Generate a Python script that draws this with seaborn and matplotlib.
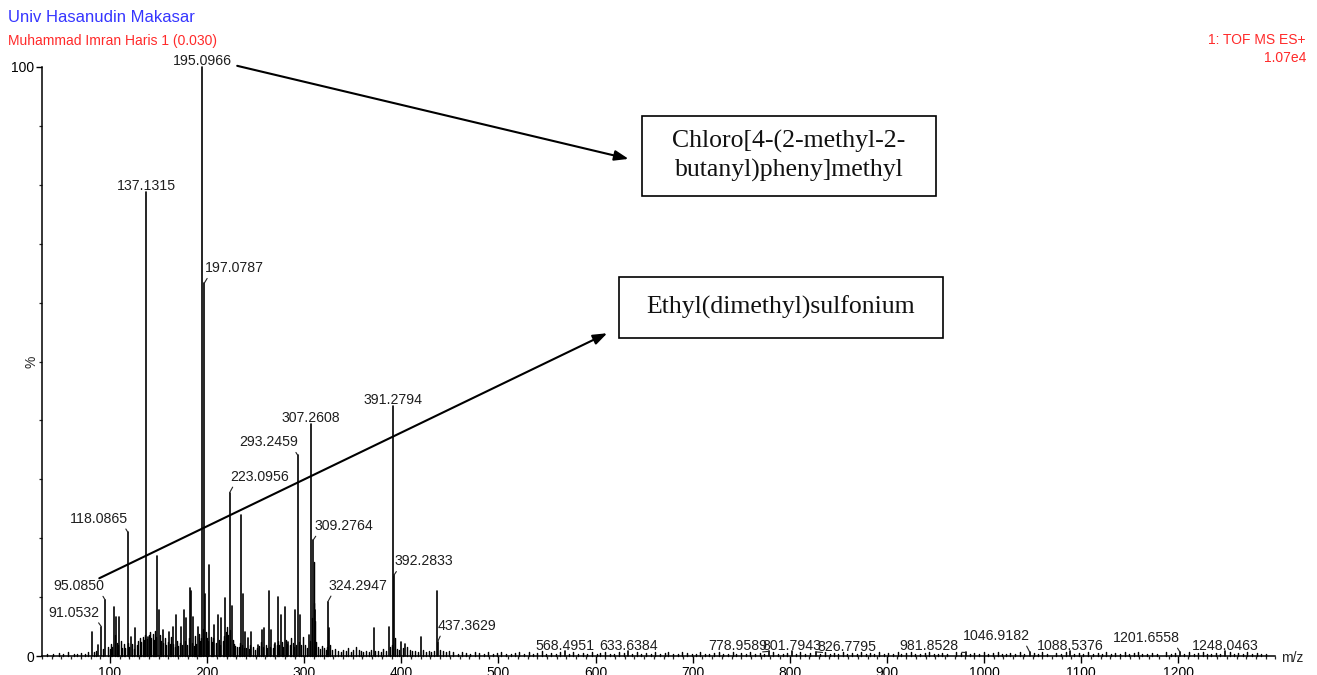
import pandas as pd
import matplotlib
matplotlib.use("Agg")
import matplotlib.pyplot as plt
from matplotlib.patches import Rectangle
from matplotlib.ticker import MultipleLocator
import seaborn as sns

# ---- spectrum data: m/z and relative intensity (%) ----
peak_mz = [81.2, 88.0, 91.0532, 95.0850, 103.9, 106.3, 109.7, 118.0865, 121.7,
           126.2, 137.1315, 138.9, 148.5, 150.0, 154.3, 161.0, 164.6, 168.0,
           173.3, 176.7, 178.4, 182.9, 183.5, 185.3, 190.4, 195.0966, 197.0787,
           198.0, 202.4, 207.6, 211.0, 214.5, 218.6, 223.0956, 225.8, 235.0,
           236.7, 239.5, 241.9, 245.4, 252.2, 256.7, 259.1, 263.5, 266.0, 270.4,
           273.5, 276.3, 279.7, 283.8, 290.7, 293.2459, 295.2, 305.4, 307.2608,
           309.2764, 311.6, 324.2947, 326.0, 371.7, 386.8, 391.2794, 392.2833,
           399.9, 403.3, 419.8, 436.4, 437.3629, 568.4951, 633.6384, 778.9589,
           801.7943, 826.7795, 981.8528, 1046.9182, 1088.5376, 1201.6558, 1248.0463]
peak_pct = [4.1, 1.9, 5.0, 9.5, 8.4, 6.7, 6.6, 21.1, 3.3,
            4.7, 78.7, 3.3, 17.0, 7.8, 4.4, 4.1, 5.0, 7.0,
            5.0, 7.8, 6.4, 11.5, 11.0, 6.7, 5.0, 100.0, 63.3,
            10.5, 15.5, 5.3, 7.0, 6.4, 9.8, 27.7, 8.5, 24.0,
            10.6, 4.1, 3.0, 4.0, 1.9, 4.4, 4.7, 11.1, 4.4, 2.2,
            10.0, 7.0, 8.3, 2.4, 7.8, 34.1, 7.0, 3.6, 39.4,
            19.7, 7.8, 9.2, 4.7, 4.7, 5.0, 42.4, 13.7,
            2.4, 2.0, 3.3, 11.1, 2.4, 0.9, 0.9, 0.8,
            0.9, 0.7, 0.6, 0.7, 0.8, 0.7, 0.8]

# low-level ions and baseline noise
minor_mz = [35, 41, 47, 52, 57, 63, 66, 70, 74, 77, 84, 86, 93, 98,
            100, 101.5, 102.5, 105, 107.5, 108.5, 111, 112.5, 114, 115.5, 119, 120,
            123, 124.5, 127.5, 129, 130.5, 132, 133.5, 135, 136, 138, 140, 141,
            142.5, 144, 145, 146.5, 147.5, 151, 152.5, 155, 156.5, 158, 160, 162,
            163, 165, 166.5, 169, 170.5, 172, 174.5, 177.5, 179.5, 181, 184, 186,
            187.5, 189, 191.5, 192.5, 194, 196, 199, 200, 201, 204, 205.5, 206.5,
            209, 212.5, 213.5, 216, 217, 219.5, 220.5, 221.5, 224, 226.5, 227.5,
            229, 231, 233, 234, 236, 238, 240, 243, 244, 247, 249.5, 251, 253.5,
            255, 258, 261, 262, 264.5, 267.5, 269, 271.5, 272.5, 274.5, 277.5,
            278.5, 281, 282.5, 285, 286.5, 288, 289.5, 292, 294.5, 297, 299, 301,
            302.5, 306, 308.5, 309.8, 310.3, 311, 312.5, 314, 316, 318, 320, 322,
            323, 325, 327, 328.5,
            332, 335, 338, 340, 343, 345, 348, 350, 353.5, 356, 358, 361, 364, 367,
            369, 373, 376, 379, 381, 384, 388, 390, 393.5, 396, 398, 401.5, 406,
            409, 411, 414, 417, 422, 425, 428, 431, 434, 440, 443, 446, 449,
            453, 458, 462, 467, 471, 476, 480, 485, 489, 494, 499, 503, 508, 513,
            517, 521, 526, 531, 536, 540, 545, 549, 554, 559, 563, 573, 577, 582,
            587, 591, 596, 601, 605, 610, 615, 619, 624, 629, 638, 643, 647, 652,
            657, 661, 666, 671, 675, 680, 685, 689, 694, 699, 703, 708, 713, 717,
            722, 727, 731, 736, 741, 745, 750, 755, 759, 764, 769, 773, 783, 788,
            793, 797, 806, 811, 816, 821, 831, 836, 841, 845, 850, 855, 859, 864,
            869, 873, 878, 883, 887, 892, 897, 901, 906, 911, 915, 920, 925, 929,
            934, 939, 943, 948, 953, 957, 962, 971, 976, 986, 990, 995, 1000, 1004,
            1009, 1014, 1018, 1023, 1027, 1032, 1037, 1041, 1051, 1056, 1060, 1065,
            1074, 1079, 1084, 1093, 1098, 1102, 1107, 1112, 1117, 1121, 1126, 1131,
            1135, 1140, 1145, 1149, 1154, 1159, 1163, 1168, 1173, 1178, 1187, 1192,
            1197, 1206, 1211, 1216, 1220, 1225, 1230, 1234, 1239, 1243, 1253, 1257,
            1262, 1267, 1271, 1276, 1281, 1285, 1290]
minor_pct = [0.4, 0.3, 0.5, 0.3, 0.6, 0.4, 0.3, 0.5, 0.4, 0.7, 0.6, 0.9, 1.2, 1.5,
             1.2, 2.0, 1.5, 3.5, 2.2, 1.8, 2.5, 1.4, 2.0, 1.3, 2.2, 1.6,
             2.0, 1.2, 1.8, 2.6, 3.0, 2.4, 3.2, 2.8, 3.6, 2.9, 3.5, 4.0,
             3.1, 3.8, 2.7, 4.2, 3.3, 3.5, 2.5, 2.2, 3.0, 1.8, 2.4, 2.0,
             3.2, 2.1, 1.6, 2.5, 1.7, 2.2, 1.9, 2.6, 1.8, 3.0, 2.2, 1.7,
             3.4, 2.1, 3.8, 2.6, 3.0, 4.5, 4.0, 3.1, 2.6, 3.3, 2.4, 3.0,
             2.2, 2.7, 1.9, 2.5, 3.4, 4.1, 5.0, 3.6, 4.4, 2.8, 2.0,
             1.7, 1.5, 1.6, 2.2, 1.8, 1.4, 1.3, 1.2, 1.9, 1.5, 1.1, 1.4, 1.7,
             2.3, 1.5, 1.9, 1.3, 1.6, 1.4, 2.0, 1.8, 2.6, 1.9, 2.4,
             1.6, 2.7, 2.1, 1.8, 3.0, 2.2, 1.6, 1.9, 2.3, 1.8, 3.3, 1.9,
             1.4, 2.5, 6.5, 16.0, 9.0, 6.0, 2.4, 1.6, 1.2, 1.7, 1.3, 1.0,
             1.5, 2.8, 1.9, 1.1,
             1.2, 0.8, 0.6, 1.0, 0.9, 1.3, 0.7, 1.0, 1.6, 1.1, 0.8, 0.6, 0.9, 0.7,
             1.1, 0.8, 0.9, 0.6, 1.2, 0.8, 1.5, 1.8, 3.0, 1.2, 1.0, 1.3, 1.6,
             1.0, 0.8, 0.9, 0.7, 1.0, 0.7, 0.8, 0.6, 0.9, 1.0, 0.8, 0.6, 0.8,
             0.6, 0.4, 0.7, 0.5, 0.3, 0.6, 0.5, 0.4, 0.7, 0.3, 0.5, 0.6, 0.4, 0.3,
             0.5, 0.7, 0.4, 0.6, 0.3, 0.5, 0.8, 0.4, 0.5, 0.3, 0.6, 0.4, 0.7, 0.3,
             0.5, 0.4, 0.6, 0.3, 0.5, 0.7, 0.4, 0.3, 0.6, 0.5, 0.4, 0.7, 0.3, 0.5,
             0.4, 0.6, 0.3, 0.5, 0.7, 0.4, 0.3, 0.6, 0.5, 0.3, 0.4, 0.6, 0.4, 0.3,
             0.5, 0.7, 0.4, 0.3, 0.6, 0.4, 0.5, 0.3, 0.6, 0.4, 0.5, 0.3, 0.6, 0.4,
             0.3, 0.5, 0.4, 0.6, 0.3, 0.5, 0.4, 0.6, 0.3, 0.5, 0.4, 0.7, 0.3, 0.5,
             0.4, 0.6, 0.3, 0.5, 0.4, 0.6, 0.3, 0.5, 0.4, 0.6, 0.3, 0.5, 0.7, 0.4,
             0.3, 0.5, 0.6, 0.4, 0.3, 0.5, 0.4, 0.6, 0.5, 0.3, 0.5, 0.4, 0.6, 0.3,
             0.5, 0.7, 0.4, 0.3, 0.5, 0.4, 0.6, 0.3, 0.5, 0.4, 0.6, 0.3, 0.5, 0.4,
             0.6, 0.3, 0.5, 0.4, 0.7, 0.3, 0.5, 0.4, 0.6, 0.3, 0.5, 0.4, 0.6, 0.3,
             0.5, 0.7, 0.4, 0.3, 0.5, 0.4, 0.6, 0.3, 0.5, 0.4, 0.6, 0.3, 0.5, 0.6,
             0.4, 0.3, 0.5, 0.4, 0.6, 0.3, 0.5, 0.4, 0.6, 0.4, 0.5, 0.3, 0.4,
             0.7, 0.4, 0.3, 0.5, 0.6, 0.4, 0.5]

# labelled ions and where their labels sit: (side, dx px, dy px)
label_mz = [195.0966, 137.1315, 197.0787, 118.0865, 223.0956, 293.2459, 307.2608,
            391.2794, 309.2764, 392.2833, 324.2947, 95.0850, 91.0532, 437.3629,
            568.4951, 633.6384, 778.9589, 801.7943, 826.7795, 981.8528, 1046.9182,
            1088.5376, 1201.6558, 1248.0463]
label_layout = [("c", 0, 2), ("c", 0, 2), ("r", 1, 11), ("l", 0, 9), ("r", 1, 12),
                ("l", 0, 9), ("c", 0, 2), ("c", 0, 2), ("r", 1, 10), ("r", 1, 10),
                ("r", 1, 12), ("l", -1, 10), ("l", -2, 10), ("r", 0, 12),
                ("c", 0, 1), ("c", 0, 1), ("l", -2, 1), ("c", 0, 1), ("r", 2, 1),
                ("l", -8, 2), ("l", 0, 12), ("c", 0, 1), ("l", 0, 10), ("c", 0, 1)]

W, H = 1317, 675
sns.set_style("white")
plt.rcParams["font.family"] = ["Liberation Sans", "DejaVu Sans"]

fig = plt.figure(figsize=(W / 100, H / 100), dpi=100)
ax = fig.add_axes([42 / W, (H - 656) / H, (1275.4 - 42) / W, (656 - 67) / H])


def sticks(mz, pct):
    rows = []
    for i, (m, p) in enumerate(zip(mz, pct)):
        rows.append({"peak": i, "mz": m, "pct": 0.0})
        rows.append({"peak": i, "mz": m, "pct": p})
    return pd.DataFrame(rows)


sns.lineplot(data=sticks(minor_mz, minor_pct), x="mz", y="pct", units="peak",
             estimator=None, color="black", lw=1.05, ax=ax, legend=False)
sns.lineplot(data=sticks(peak_mz, peak_pct), x="mz", y="pct", units="peak",
             estimator=None, color="black", lw=1.2, ax=ax, legend=False)
for ln in ax.lines:
    ln.set_clip_on(False)

ax.set_xlim(30, 1300)
ax.set_ylim(0, 100)
ax.set_xlabel("")
ax.set_ylabel("")
sns.despine(ax=ax, top=True, right=True)
for s in ("left", "bottom"):
    ax.spines[s].set_linewidth(1.1)
    ax.spines[s].set_color("black")

ax.set_xticks(range(100, 1300, 100))
ax.xaxis.set_minor_locator(MultipleLocator(10))
ax.set_yticks([0, 100])
ax.yaxis.set_minor_locator(MultipleLocator(10))
ax.tick_params(axis="x", which="major", direction="out", length=5, width=1,
               labelsize=10, pad=2.5, colors="black")
ax.tick_params(axis="x", which="minor", direction="out", length=2.5, width=0.9)
ax.tick_params(axis="y", which="major", direction="out", length=4.5, width=1,
               labelsize=10, pad=1.2, colors="black")
ax.tick_params(axis="y", which="minor", direction="out", length=2.5, width=0.9)
ax.tick_params(axis="both", which="both", left=True, bottom=True)

ax.text(-0.0085, 0.5, "%", rotation=90, transform=ax.transAxes,
        ha="center", va="center", fontsize=10)
ax.annotate("m/z", xy=(1, 0), xycoords="axes fraction", xytext=(6, -2),
            textcoords="offset pixels", ha="left", va="center", fontsize=10,
            annotation_clip=False)

# peak labels
height_of = dict(zip(peak_mz, peak_pct))
for mz, (side, dx, dy) in zip(label_mz, label_layout):
    h = height_of[mz]
    ha = {"c": "center", "r": "left", "l": "right"}[side]
    kw = {}
    if side != "c":
        kw["arrowprops"] = dict(arrowstyle="-", lw=0.8, color="#222222",
                                shrinkA=0, shrinkB=0,
                                relpos=(0.08, 0.1) if side == "r" else (0.92, 0.1))
    ax.annotate(f"{mz:.4f}", xy=(mz, h), xytext=(dx, dy),
                textcoords="offset pixels", ha=ha, va="baseline",
                fontsize=10.2, color="#1e1e1e", annotation_clip=False, **kw)

# structure call-outs
arrow_style = dict(arrowstyle="-|>,head_length=0.6,head_width=0.22",
                   mutation_scale=14, lw=1.5, color="black",
                   shrinkA=0, shrinkB=0)
ax.annotate("", xy=(634, 84.4), xytext=(231, 100.2), arrowprops=arrow_style,
            annotation_clip=False)
ax.annotate("", xy=(612, 54.8), xytext=(89, 13.2), arrowprops=arrow_style,
            annotation_clip=False)


def box(x0, y0, x1, y1, text, ls=1.32):
    fig.add_artist(Rectangle((x0 / W, 1 - y1 / H), (x1 - x0) / W, (y1 - y0) / H,
                             transform=fig.transFigure, fill=True,
                             facecolor="white", edgecolor="black", lw=1.2))
    fig.text((x0 + x1) / 2 / W, 1 - (y0 + y1) / 2 / H, text, ha="center",
             va="center", family="Liberation Serif", fontsize=18.5,
             linespacing=ls, color="#111111", multialignment="center")


box(642, 116, 936, 196, "Chloro[4-(2-methyl-2-\nbutanyl)pheny]methyl")
box(619, 277, 943, 338, "Ethyl(dimethyl)sulfonium")

# header text
fig.text(8 / W, 1 - 18 / H, "Univ Hasanudin Makasar", color="#3535ff",
         fontsize=12, ha="left", va="center")
fig.text(8 / W, 1 - 41 / H, "Muhammad Imran Haris 1 (0.030)", color="#ff2a2a",
         fontsize=10, ha="left", va="center")
fig.text(1306 / W, 1 - 40 / H, "1: TOF MS ES+", color="#ff2a2a",
         fontsize=10, ha="right", va="center")
fig.text(1306 / W, 1 - 58 / H, "1.07e4", color="#ff2a2a",
         fontsize=10, ha="right", va="center")

fig.savefig("out.png", dpi=100, facecolor="white")
